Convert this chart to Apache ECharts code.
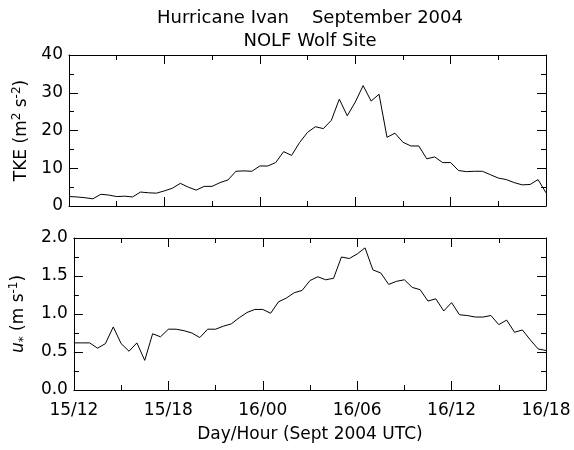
<!DOCTYPE html>
<html>
<head>
<meta charset="utf-8">
<script src="https://cdn.jsdelivr.net/npm/echarts@6/dist/echarts.min.js"></script>
<style>
  html, body { margin: 0; padding: 0; background: #fff; }
  #chart { width: 574px; height: 450px; }
</style>
</head>
<body>
<div id="chart"></div>
<script>
// half-hourly samples, 15/12 .. 16/18 UTC
const tickLabels = ['15/12', '15/18', '16/00', '16/06', '16/12', '16/18']

const tke = [
  2.5, 2.4, 2.2, 1.9, 3.1, 2.9, 2.5, 2.6, 2.4, 3.7, 3.5, 3.4, 4.0, 4.7, 6.0, 5.0,
  4.2, 5.2, 5.2, 6.2, 6.9, 9.2, 9.3, 9.2, 10.6, 10.6, 11.5, 14.4, 13.4, 16.8, 19.5,
  21.0, 20.5, 22.7, 28.3, 23.9, 27.5, 31.9, 27.8, 29.6, 18.2, 19.3, 16.9, 15.9, 15.9,
  12.5, 13.0, 11.5, 11.5, 9.4, 9.1, 9.2, 9.2, 8.3, 7.4, 7.0, 6.2, 5.6, 5.7, 7.0, 3.5
]

const ustar = [
  0.62, 0.62, 0.62, 0.55, 0.61, 0.83, 0.61, 0.51, 0.62, 0.39, 0.74, 0.70, 0.80, 0.80,
  0.78, 0.75, 0.69, 0.80, 0.80, 0.84, 0.87, 0.95, 1.02, 1.06, 1.06, 1.01, 1.16, 1.21,
  1.28, 1.31, 1.44,
  1.49, 1.45, 1.47, 1.75, 1.73, 1.79, 1.87, 1.58, 1.54, 1.39, 1.43, 1.45, 1.35, 1.32,
  1.17, 1.20, 1.04, 1.15, 0.99, 0.98, 0.96, 0.96, 0.98, 0.86, 0.92, 0.76, 0.79, 0.66,
  0.54, 0.52
]

const font = 'DejaVu Sans'
const black = '#000'

const chart = echarts.init(document.getElementById('chart'))

const pairs = arr => arr.map((v, i) => [i * 0.5, v])

function xAx(grid, pos, labels) {
  return {
    type: 'value',
    gridIndex: grid,
    position: pos,
    min: 0,
    max: 30,
    interval: 6,
    axisLine: { show: true, onZero: false, lineStyle: { color: black, width: 1 } },
    axisTick: { show: true, inside: true, length: 9, lineStyle: { color: black } },
    minorTick: { show: true, splitNumber: 2, length: 5, lineStyle: { color: black } },
    splitLine: { show: false },
    axisLabel: {
      show: labels,
      color: black,
      fontFamily: font,
      fontSize: 17,
      margin: 12,
      formatter: v => tickLabels[Math.round(v / 6)]
    }
  }
}

function yAx(grid, pos, max, interval, digits, name) {
  return {
    type: 'value',
    gridIndex: grid,
    position: pos,
    min: 0,
    max: max,
    interval: interval,
    name: name,
    nameLocation: 'middle',
    nameRotate: 90,
    nameGap: 32,
    nameTextStyle: {
      color: black,
      fontFamily: font,
      fontSize: 17,
      rich: {
        n: { fontFamily: font, fontSize: 17, color: black, lineHeight: 22 },
        i: { fontFamily: font, fontSize: 17, fontStyle: 'italic', color: black, lineHeight: 22 },
        sup: { fontFamily: font, fontSize: 12, color: black, verticalAlign: 'top', lineHeight: 22 },
        sub: { fontFamily: font, fontSize: 12, color: black, verticalAlign: 'bottom', lineHeight: 22 }
      }
    },
    axisLine: { show: true, onZero: false, lineStyle: { color: black, width: 1 } },
    axisTick: { show: true, inside: true, length: 9, lineStyle: { color: black } },
    minorTick: { show: true, splitNumber: 2, length: 5, lineStyle: { color: black } },
    splitLine: { show: false },
    axisLabel: {
      show: pos === 'left',
      color: black,
      fontFamily: font,
      fontSize: 17,
      margin: 6,
      formatter: v => digits ? v.toFixed(digits) : String(v)
    }
  }
}

const option = {
  animation: false,
  backgroundColor: '#fff',
  title: {
    text: 'Hurricane Ivan    September 2004\nNOLF Wolf Site',
    left: 305,
    textAlign: 'center',
    top: 2,
    textStyle: {
      color: black,
      fontFamily: font,
      fontSize: 18,
      fontWeight: 'normal',
      lineHeight: 23
    }
  },
  grid: [
    { left: 69, right: 28, top: 55, height: 151 },
    { left: 69, right: 28, top: 238, height: 152 }
  ],
  xAxis: [
    xAx(0, 'bottom', false),
    xAx(0, 'top', false),
    Object.assign(xAx(1, 'bottom', true), {
      name: 'Day/Hour (Sept 2004 UTC)',
      nameLocation: 'middle',
      nameGap: 36,
      nameTextStyle: { color: black, fontFamily: font, fontSize: 17 }
    }),
    xAx(1, 'top', false)
  ],
  yAxis: [
    yAx(0, 'left', 40, 10, 0, '{n|TKE (m}{sup|2}{n| s}{sup|-2}{n|)}'),
    yAx(0, 'right', 40, 10, 0, ''),
    yAx(1, 'left', 2, 0.5, 1, '{i|u}{sub|*}{n| (m s}{sup|-1}{n|)}'),
    yAx(1, 'right', 2, 0.5, 1, '')
  ],
  series: [
    {
      type: 'line',
      xAxisIndex: 0,
      yAxisIndex: 0,
      data: pairs(tke),
      showSymbol: false,
      lineStyle: { color: black, width: 1 }
    },
    {
      type: 'line',
      xAxisIndex: 2,
      yAxisIndex: 2,
      data: pairs(ustar),
      showSymbol: false,
      lineStyle: { color: black, width: 1 }
    }
  ]
}

chart.setOption(option)
</script>
</body>
</html>
